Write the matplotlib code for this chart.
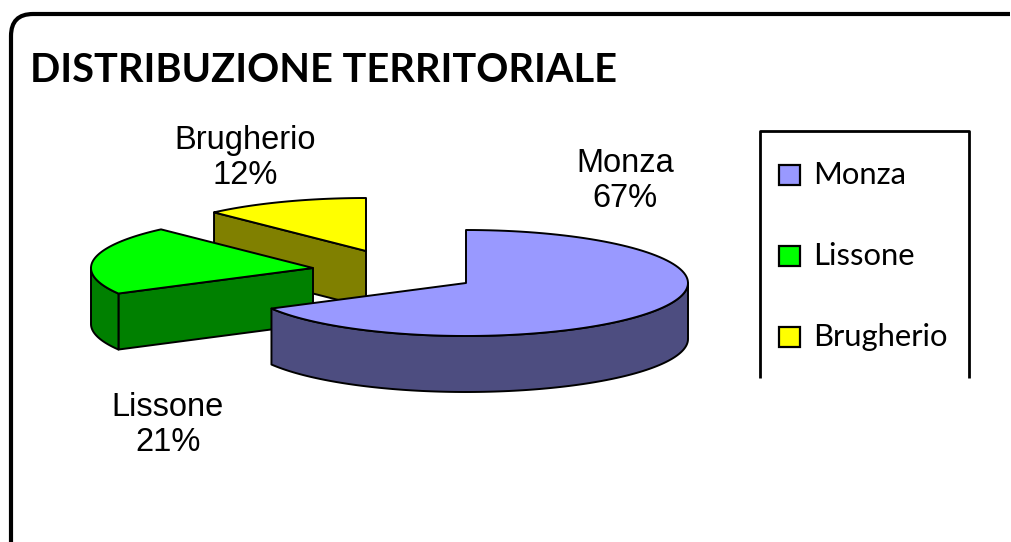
import numpy as np
import matplotlib
matplotlib.use("Agg")
import matplotlib.pyplot as plt
from matplotlib.patches import Polygon, Rectangle
from matplotlib.path import Path
from matplotlib.patches import PathPatch

# data
cities = ["Monza", "Lissone", "Brugherio"]
shares = [67, 21, 12]
top_colors = ["#9999FF", "#00FF00", "#FFFF00"]
side_colors = ["#4D4D80", "#008000", "#808000"]
title = "DISTRIBUZIONE TERRITORIALE"

# layout (pixel-like units, y pointing down)
W, H = 1012, 542
cx, cy = 466, 283
rx, ry, depth = 222, 53, 56
explode = [(0, 0), (-153, -15), (-100, -32)]
label_pos = [(625, 181), (168, 425), (245, 158)]

fig = plt.figure(figsize=(W / 100, H / 100), dpi=100)
ax = fig.add_axes([0, 0, 1, 1])
ax.set_xlim(0, W)
ax.set_ylim(H, 0)
ax.axis("off")


def rim(x0, y0, t, dz=0):
    r = np.radians(t)
    return x0 + rx * np.cos(r), y0 - ry * np.sin(r) + dz


def arc(x0, y0, a, b, dz=0):
    ts = np.linspace(a, b, 120)
    xs, ys = rim(x0, y0, ts, dz)
    return np.column_stack([xs, ys])


def front_parts(a, b):
    out = []
    for k in range(-2, 3):
        lo, hi = max(a, -180 + 360 * k), min(b, 360 * k)
        if hi > lo:
            out.append((lo, hi))
    return out


# slice angles: start at 12 o'clock, clockwise
fr = np.array(shares) / sum(shares)
slices = []
start = 90.0
for i, f in enumerate(fr):
    t2 = start
    t1 = start - 360 * f
    slices.append((i, t1, t2))
    start = t1

# back to front
order = sorted(slices, key=lambda s: -np.sin(np.radians((s[1] + s[2]) / 2)))

ekw = dict(edgecolor="black", linewidth=1.4, joinstyle="round")
for i, t1, t2 in order:
    x0, y0 = cx + explode[i][0], cy + explode[i][1]
    # cut faces
    for t, vis in ((t2, np.cos(np.radians(t2)) < -1e-6), (t1, np.cos(np.radians(t1)) > 1e-6)):
        if vis:
            px, py = rim(x0, y0, t)
            ax.add_patch(Polygon([(x0, y0), (px, py), (px, py + depth), (x0, y0 + depth)],
                                 closed=True, facecolor=side_colors[i], **ekw))
    # outer wall
    for a, b in front_parts(t1, t2):
        pts = np.vstack([arc(x0, y0, a, b), arc(x0, y0, b, a, depth)])
        ax.add_patch(Polygon(pts, closed=True, facecolor=side_colors[i], **ekw))
    # top
    pts = np.vstack([[(x0, y0)], arc(x0, y0, t1, t2)])
    ax.add_patch(Polygon(pts, closed=True, facecolor=top_colors[i], **ekw))

# data labels
for i, (lx, ly) in enumerate(label_pos):
    ax.text(lx, ly, f"{cities[i]}\n{shares[i]}%", ha="center", va="center",
            fontsize=23.5, family="Liberation Sans", linespacing=1.2)

# title
ax.text(30, 70, title, ha="left", va="center", fontsize=28.6, fontweight="bold", family="Lato")

# legend (box without bottom line)
ax.plot([760, 760, 969, 969], [378, 131, 131, 378], color="black", lw=2, solid_capstyle="butt")
for k, name in enumerate(cities):
    ly = 175 + k * 81
    ax.add_patch(Rectangle((779, ly - 10), 21, 20, facecolor=top_colors[k],
                           edgecolor="black", linewidth=1.6))
    ax.text(813, ly, name, ha="left", va="center", fontsize=22.3, family="Lato")

# outer border with rounded top-left corner
verts = [(11, H + 5), (11, 36), (11, 14), (33, 14), (1010, 14)]
codes = [Path.MOVETO, Path.LINETO, Path.CURVE3, Path.CURVE3, Path.LINETO]
ax.add_patch(PathPatch(Path(verts, codes), facecolor="none", edgecolor="black", lw=3))

fig.savefig("out.png", dpi=100)
